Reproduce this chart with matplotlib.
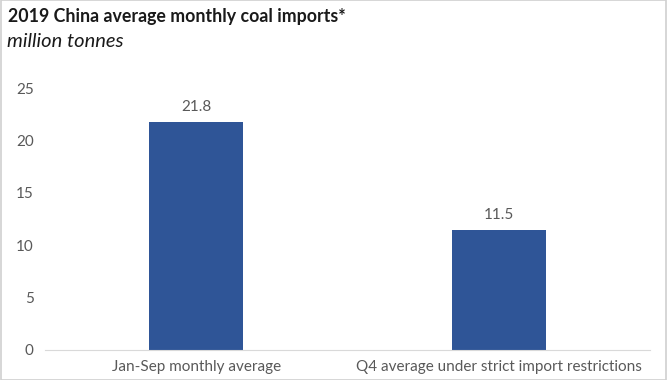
import matplotlib
matplotlib.use('Agg')
import matplotlib.pyplot as plt
import matplotlib.patches as mpatches

categories = ['Jan-Sep monthly average', 'Q4 average under strict import restrictions']
values = [21.8, 11.5]
yticks = [0, 5, 10, 15, 20, 25]

plt.rcParams['font.family'] = ['Lato', 'DejaVu Sans']

fig = plt.figure(figsize=(6.7, 3.8), dpi=100)
ax = fig.add_axes([0.067, 0.079, 0.903, 0.689])

bar_col = '#2F5597'
txt_col = '#595959'

x = range(len(categories))
bars = ax.bar(x, values, width=0.31, color=bar_col)
for b, v in zip(bars, values):
    ax.text(b.get_x() + b.get_width()/2, v + 0.7, f'{v:.1f}', ha='center', va='bottom',
            fontsize=11, color=txt_col)

ax.set_xlim(-0.5, 1.5)
ax.set_ylim(0, 25)
ax.set_yticks(yticks)
ax.set_xticks(list(x))
ax.set_xticklabels(categories)
ax.tick_params(axis='both', length=0, labelsize=11, colors=txt_col)
ax.tick_params(axis='y', pad=8)
ax.tick_params(axis='x', pad=7)
for s in ['top', 'right', 'left']:
    ax.spines[s].set_visible(False)
ax.spines['bottom'].set_color('#D9D9D9')

fig.text(0.012, 0.978, '2019 China average monthly coal imports*', fontsize=12.8,
         fontweight='bold', color='#1a1a1a', va='top', ha='left')
fig.text(0.011, 0.912, 'million tonnes', fontsize=14.5, style='italic',
         color='#1a1a1a', va='top', ha='left')

fig.patches.append(mpatches.Rectangle((0.001, 0.0), 0.993, 1.0, transform=fig.transFigure,
                                      fill=False, edgecolor='#D0D0D0', linewidth=1.2))

fig.savefig('out.png', dpi=100)
